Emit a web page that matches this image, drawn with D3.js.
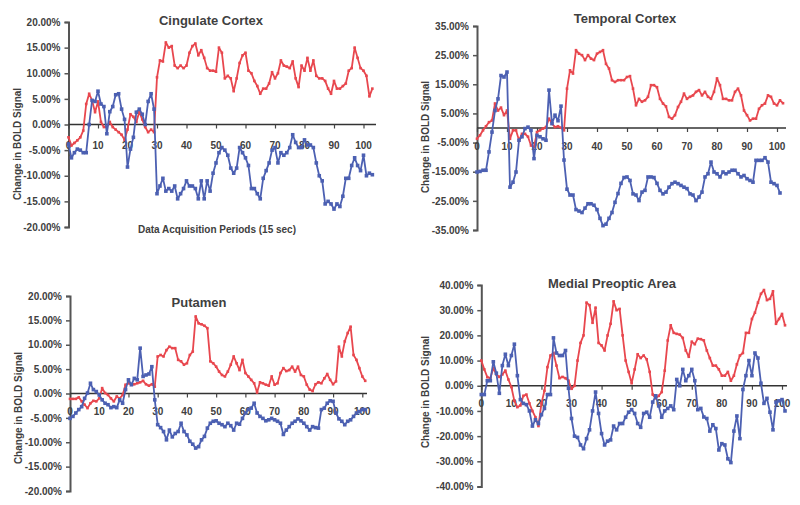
<!DOCTYPE html>
<html><head><meta charset="utf-8">
<script src="https://cdn.jsdelivr.net/npm/d3@7"></script>
<style>body{margin:0;background:#fff}svg{display:block}</style>
</head><body><svg id="c" width="800" height="505"></svg>
<script>
// ---------- data (percent change in BOLD signal) ----------
const xTickValues = [0,10,20,30,40,50,60,70,80,90,100];

const cingulateYTicks = [20,15,10,5,0,-5,-10,-15,-20];
const temporalYTicks = [35,25,15,5,-5,-15,-25,-35];
const putamenYTicks = [20,15,10,5,0,-5,-10,-15,-20];
const preopticYTicks = [40,30,20,10,0,-10,-20,-30,-40];

const cingulateRed = [-2.5,-4.1,-3.6,-3.1,-2.5,-1.2,4.0,6.0,4.7,2.4,4.5,0.5,-0.5,-0.5,0.5,-0.5,-1,-1.5,-2,-3,
 -1,2,1.5,0.5,2.5,1,-0.5,-1.5,-1,-1.5,9.2,12.5,12.3,16,15,15.3,11.5,11,11.5,11,
 11.5,14,15.3,15.8,13.5,14.5,13,11,10.5,10.5,10.3,15,14,9,9.5,9,6.5,9,12,13.5,
 14,10.5,10,8.5,7.5,6,7,7,8,10.2,9,10,12.5,11.5,11.3,11,12.3,9,7.3,11.5,
 10.5,13,10.5,12.5,9.5,9,9,8.5,7,6,8.5,7,7,7.5,8,10.5,11,15,13,11,
 10.5,9.5,5.5,7];
const cingulateBlue = [-3.8,-6.5,-5.5,-4.8,-5,-5.5,-5.5,0,4.7,4.5,6.5,4,3.5,-1.8,2.5,3.5,5.8,6,3,1,
 -8.3,-4.8,-2.5,2.4,3,2,0,4.5,6,3,-13.5,-12,-10.5,-13,-12.5,-13,-12,-14.5,-13.5,-12.5,
 -11,-12,-12,-12.5,-14.5,-11,-14.5,-11,-13,-9.5,-7.5,-5.5,-4.5,-5,-6,-8.5,-9.5,-8.5,-4.5,-5.5,
 -6.5,-8,-12.5,-12.5,-13.5,-14.5,-10.5,-9,-7.5,-5,-4.5,-7.5,-5.5,-6,-5.5,-4.5,-2,-3.5,-4.5,-4.5,
 -3,-4,-4,-4.5,-7.5,-10,-11,-15.5,-15,-15.5,-16.5,-15.5,-16,-14,-10.5,-10.5,-8,-6.5,-8,-9,
 -6,-10,-9.5,-9.8];

const temporalRed = [-3.7,-2.5,-0.8,0.6,2,2.6,8.4,6,7,4.4,6,-3.7,-0.8,-0.8,-4.2,-2,-2,-3,-6,-6.5,
 -1.4,-0.8,-0.2,0.3,3.2,1.5,0.3,0.6,0.1,-0.8,13.5,19.8,18.7,26.7,25.5,25,23.3,25,23.8,23.3,
 25.5,26.1,26.7,22,20.4,16.4,15.8,16.4,16.4,16.4,17.5,17.8,13.5,7.8,10,9,9.5,10.7,14.7,14.7,
 14,10,8.4,7.4,3.8,3.2,4.4,7.2,9,11.8,10,10.7,11.2,12.4,13,11.2,12.4,10.7,10,12.4,
 17,14.7,10,10,9.5,9.5,12.4,13.5,11.2,6,4.4,2.6,3.2,3.2,6.6,7.8,8.4,11.2,10.7,8.4,
 7.8,9.5,8.5];
const temporalBlue = [-15.1,-14.9,-14.5,-14.5,-8.2,-1.4,6,10,18,17.5,19.2,-20.3,-18.6,-15.1,-4.2,-3,-0.2,0.3,-0.8,-10.5,
 -2.5,-3,-3.7,-4.2,13,1.5,4.4,2.5,7.5,-11,-21,-23,-23,-28,-28.5,-29,-27.5,-26,-26,-26.5,
 -28,-31,-33.5,-33,-31,-29,-25.5,-22.5,-19,-17,-16.8,-18,-22.6,-23,-24.9,-22,-21.4,-16.8,-16.8,-17,
 -19,-21.4,-22.6,-22,-20.3,-19.1,-18.6,-19.1,-19.7,-20.3,-20.8,-22.6,-23,-24.9,-23.7,-22,-16.8,-15.7,-11.7,-15.1,
 -15.7,-16.8,-15.1,-15.7,-15.1,-14.5,-14.5,-15.7,-16.8,-16.3,-17.4,-18,-18.6,-11.1,-11.1,-11.1,-10.2,-11.7,-18.6,-19.1,
 -19.7,-22.3];

const putamenRed = [-1.1,-1.1,-1.1,-0.8,-1.6,-2.3,-3,-2,-1.5,-1.6,-1,1.1,0.1,-0.3,-1,-1.6,-0.6,-1,-0.3,1.8,
 2.1,1.8,1.9,2.1,2.3,2.6,1.9,1.6,1.9,1.4,7.6,7.9,7.6,8.9,9.6,9.3,9.3,6.9,6.6,5.9,
 6.2,7.9,8.6,15.8,14.4,14.2,13.9,13.4,6.6,6.2,5.5,4.5,3.8,3.5,4.5,5.9,7.6,6.2,4.8,6.9,
 4.2,3.5,2.8,2.1,0.2,2.3,2.1,1.8,1.6,3.5,1.8,2.1,4.2,5.2,4.6,4.8,5.5,4.5,5.5,3.8,
 3.5,1.8,0.8,0.5,1.9,2.3,2.1,3.1,4,2.8,1.9,2.5,9.6,7.6,10.7,12.4,13.7,7.9,6.9,5.2,
 3.5,2.6];
const putamenBlue = [-5.1,-4.7,-4,-3.3,-2.7,-1,0.1,2.1,0.8,0.4,-0.3,-1.3,-2,-2.3,-2.9,-2.7,-2.9,-1.3,-2,0.8,
 2.8,1.8,3.1,2.8,9.3,3.5,3.8,4,5.5,-1.3,-6.4,-7,-7.8,-9.5,-7.5,-8.9,-8.2,-7.8,-6.1,-7.8,
 -8.5,-9.8,-10.4,-11.2,-10.9,-9.5,-8.8,-7.1,-6.1,-5.7,-5.6,-6.1,-6.4,-6.8,-6.1,-6.6,-7.5,-6.1,-6.3,-5.1,
 -4,-3.3,-3,-2,-4,-4.7,-5.1,-5.6,-5.4,-5.1,-5.4,-5.7,-6.1,-8.4,-7.5,-6.8,-6.1,-5.7,-5.2,-5.6,
 -6.1,-6.8,-7.5,-6.8,-7,-7.1,-3.3,-3,-2,-1.5,-1.6,-4,-5.2,-5.7,-6.4,-5.7,-5.4,-4.7,-4,-3.7,
 -3.3,-3.3];

const preopticRed = [10,6.5,3.4,3,7,4.5,3.5,4.5,6,2.5,-0.5,-6,-8.5,-7.8,-4,-3.5,-7,-10,-12.5,-16,
 -7,-2,7.4,12,13,8,3,3.5,3,2,-1.2,0,10,17,20,33,32,25,31,17,
 16,14,20,24.6,33.5,30,30.5,20,10,5.5,1,6.5,12.5,11,12,10.5,5.5,-3.5,-5,-4,
 -2.5,6,18,24,21,20.6,20.3,19,14,11.5,17.5,16.5,18.7,18.5,18,14,11,8,8,6.5,
 4,4,5.5,2,4,8.5,12,13,21,21,26.5,29,33,36.5,38,34,34.5,37.5,24.6,26.5,
 28.5,24];
const preopticBlue = [-3.5,-3.5,2,2,9.5,5,-3,8,12.5,8,12,16.5,4,-5.5,-7,-7.5,-10,-16,-13.5,-15,
 -11.5,-9,-3.5,-3.5,19,13,12,12,14,-1,-13,-20,-20.5,-23.5,-25,-21,-17.5,-10,-2.5,-11,
 -19,-23.5,-22,-21.5,-16,-17.5,-15,-15,-12.5,-10.5,-9.5,-11,-15,-16.5,-11,-10.5,-12.5,-6.5,-4,-8,
 -12.5,-10,-9,-8,-9.5,2.5,0,6.5,2,4,6.5,2,-9.5,-9,-12.4,-13,-18,-15.5,-17,-25.5,
 -23,-23.5,-29,-30.5,-18,-12,-21,-1.5,4,10,4,13,11,1,-7,-5,-10.5,-17.5,-6.5,-6,
 -5.5,-10];

// ---------- layout ----------
const panels = [
  {title:"Cingulate Cortex", red:cingulateRed, blue:cingulateBlue, yTicks:cingulateYTicks, yDom:[-20,20],
   xR:[68.5,363.5], yR:[227,22], axisEnd:376, titleX:211, titleY:20, labOff:21,
   yTitleX:17, yTitleY:144, xTitle:"Data Acquisition Periods (15 sec)", xTitleX:217, xTitleY:229},
  {title:"Temporal Cortex", red:temporalRed, blue:temporalBlue, yTicks:temporalYTicks, yDom:[-35,35],
   xR:[477,777], yR:[230,26], axisEnd:786, titleX:625, titleY:18, labOff:18,
   yTitleX:425, yTitleY:137},
  {title:"Putamen", red:putamenRed, blue:putamenBlue, yTicks:putamenYTicks, yDom:[-20,20],
   xR:[70,362.3], yR:[491,296], axisEnd:367, titleX:199, titleY:302, labOff:18,
   yTitleX:18, yTitleY:408},
  {title:"Medial Preoptic Area", red:preopticRed, blue:preopticBlue, yTicks:preopticYTicks, yDom:[-40,40],
   xR:[481.3,782], yR:[486.5,285], axisEnd:787, titleX:612, titleY:283, labOff:18,
   yTitleX:425, yTitleY:392}
];

const RED = "#e8474e", BLUE = "#4c60b2", TXT = "#404040";
const FONT = "'Liberation Sans', Arial, sans-serif";
const svg = d3.select("#c");
const fmt = v => d3.format(".2f")(v).replace("−","-") + "%";

panels.forEach(p => {
  const x = d3.scaleLinear().domain([0,100]).range(p.xR);
  const y = d3.scaleLinear().domain(p.yDom).range(p.yR);
  const g = svg.append("g");

  // Y axis
  const yAxis = d3.axisLeft(y).tickValues(p.yTicks).tickSize(4).tickPadding(4).tickFormat(fmt);
  const ya = g.append("g").attr("transform", `translate(${p.xR[0]},0)`).call(yAxis);
  ya.select(".domain").attr("stroke","#555").attr("stroke-width",2);
  ya.selectAll(".tick line").attr("stroke","#555").attr("stroke-width",1.5);
  ya.selectAll(".tick text").attr("fill",TXT).style("font-family",FONT)
    .style("font-size","10px").style("font-weight","bold");

  // zero line with category ticks
  const y0 = y(0);
  g.append("line").attr("x1",p.xR[0]).attr("x2",p.axisEnd).attr("y1",y0).attr("y2",y0)
    .attr("stroke","#333").attr("stroke-width",1.5);
  const xAxis = d3.axisBottom(x).tickValues(xTickValues).tickSize(4).tickFormat("");
  const xa = g.append("g").attr("transform",`translate(0,${y0})`).call(xAxis);
  xa.select(".domain").remove();
  xa.selectAll(".tick line").attr("stroke","#444").attr("stroke-width",1.2);
  g.selectAll(".xlab").data(xTickValues).enter().append("text")
    .attr("x", d => x(d)).attr("y", y0 + p.labOff).attr("dy","0.35em")
    .attr("text-anchor","middle").attr("fill",TXT)
    .style("font-family",FONT).style("font-size","10px").style("font-weight","bold")
    .text(d => d);

  // series
  const line = d3.line().x((d,i) => x(i)).y(d => y(d));
  g.append("path").datum(p.red).attr("d",line).attr("fill","none")
    .attr("stroke",RED).attr("stroke-width",1.8).attr("stroke-linejoin","round");
  g.selectAll(".rm").data(p.red).enter().append("rect")
    .attr("x",(d,i)=>x(i)-1.3).attr("y",d=>y(d)-1.3).attr("width",2.6).attr("height",2.6).attr("fill",RED);
  g.append("path").datum(p.blue).attr("d",line).attr("fill","none")
    .attr("stroke",BLUE).attr("stroke-width",1.8).attr("stroke-linejoin","round");
  g.selectAll(".bm").data(p.blue).enter().append("rect")
    .attr("x",(d,i)=>x(i)-1.8).attr("y",d=>y(d)-1.8).attr("width",3.6).attr("height",3.6).attr("fill",BLUE);

  // titles
  g.append("text").attr("x",p.titleX).attr("y",p.titleY).attr("dy","0.35em").attr("text-anchor","middle")
    .attr("fill",TXT).style("font-family",FONT).style("font-size","13px").style("font-weight","bold").text(p.title);
  g.append("text").attr("transform",`translate(${p.yTitleX},${p.yTitleY}) rotate(-90)`).attr("dy","0.35em")
    .attr("text-anchor","middle").attr("fill",TXT).style("font-family",FONT)
    .style("font-size","10px").style("font-weight","bold").text("Change in BOLD Signal");
  if (p.xTitle) {
    g.append("text").attr("x",p.xTitleX).attr("y",p.xTitleY).attr("dy","0.35em").attr("text-anchor","middle")
      .attr("fill",TXT).style("font-family",FONT).style("font-size","10px").style("font-weight","bold").text(p.xTitle);
  }
});
</script></body></html>
